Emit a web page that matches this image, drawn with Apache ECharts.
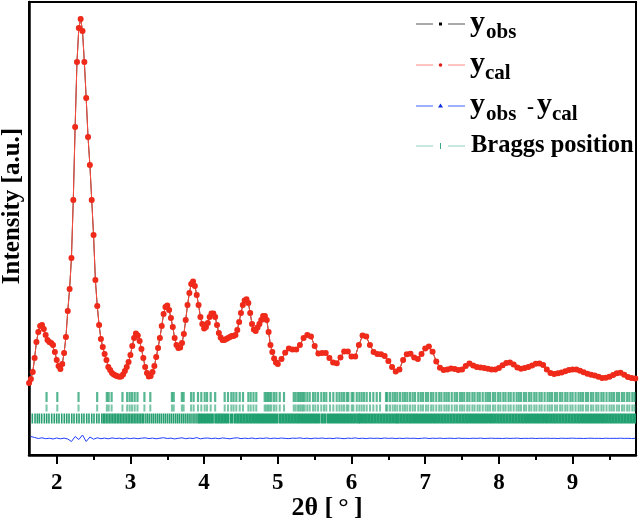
<!DOCTYPE html>
<html><head><meta charset="utf-8">
<script src="https://cdn.jsdelivr.net/npm/echarts@6/dist/echarts.min.js"></script>
<style>html,body{margin:0;padding:0;background:#fff}#c{width:640px;height:524px}</style>
</head><body><div id="c"></div>
<script>
// ---- data ----
// observed pattern, low-angle part: 2theta from 1.625 in steps of 0.025
const lowStart = 1.625, lowStep = 0.025;
const yObsLow = [
 72, 76, 83, 97, 113, 123, 129, 130, 126, 120,
 115, 113, 112, 110, 103, 95, 89, 86, 91, 102,
 118, 144, 166, 197, 255, 328, 393, 427, 436, 424,
 393, 357, 318, 290, 255, 220, 175, 149, 130, 116,
 108, 101, 95, 88, 85, 82, 80.5, 79.5, 78.7, 78.3,
 78.5, 80.5, 84, 88, 93, 100, 109, 117, 121.5, 119.5,
 114, 106, 97, 88, 82, 78.5, 79, 83, 89, 98,
 107, 117, 129, 141, 148, 149.5, 145, 137, 128, 117,
 110, 107, 107.5, 112, 121, 135, 150, 162, 171, 173.5,
 169, 160, 150, 138, 131, 126.5, 128, 132, 138, 141.5,
 141.5, 138, 130, 122, 117.5, 115, 115, 116, 117, 118,
 119, 119, 120, 125, 133, 142, 150, 154.5, 155.7, 152,
 142, 131, 125.5, 124, 127.5, 131, 135, 139, 139, 135,
 123, 110, 103, 96.5, 92.5, 91
];
// observed pattern, high-angle part: 2theta from 5.05 in steps of 0.05
const highStart = 5.05, highStep = 0.05;
const yObsHigh = [
 96, 102.3, 106.5, 105.5, 105.5, 110, 117, 120, 118.5, 109,
 101.5, 102, 102, 97, 92.5, 91.7, 97.5, 103.5, 103.5, 98.5,
 98.5, 110, 119.5, 118.5, 110, 103, 101, 100.7, 99, 94,
 88, 83.5, 85.5, 95, 100.7, 101.2, 97.5, 96, 101, 106.5,
 108.5, 103.3, 93.5, 87.2, 85, 85.5, 86.5, 86, 85, 85.5,
 89, 91.5, 89.5, 88, 87.5, 87, 86.2, 85.5, 85.5, 87,
 89.7, 92, 92.5, 90.5, 87.5, 86.2, 87, 88, 89.5, 91.2,
 91.5, 90, 85.5, 82, 81, 81.8, 82.5, 83.8, 85, 85.5,
 85.5, 84.2, 82.7, 81.2, 80.2, 79.5, 78.3, 77, 77.2, 78.2,
 80, 81.7, 82.2, 80.2, 78, 77, 76.5
];
// calculated pattern: coincides with the observed one within the picture's resolution
const yCalLow = yObsLow.slice();
const yCalHigh = yObsHigh.slice();
// difference curve (drawn with its own baseline), 2theta from 1.65 in steps of 0.05
const diffStart = 1.65, diffStep = 0.05;
const yDiff = [
 18.5, 17.5, 16.5, 17.2, 16.3, 16.8, 16.0, 17.0, 16.2, 16.9,
 16.0, 13.5, 18.5, 15.5, 20.0, 13.5, 18.0, 15.8, 17.2, 16.3,
 16.9, 16.2, 17.1, 16.5, 16.8, 16.1, 17.0, 16.4, 16.9, 16.3,
 16.8, 17.2, 16.4, 16.9, 16.2, 16.8, 17.3, 16.5, 16.9, 16.1,
 16.7, 17.2, 16.3, 16.9, 16.5, 17.4, 16.2, 16.8, 17.0, 16.4,
 16.9, 16.3, 17.1, 16.6, 16.2, 16.9, 17.2, 16.4, 16.8, 16.5,
 17.0, 16.3, 16.8, 16.6, 17.1, 16.4, 16.9, 16.5, 17.0, 16.6,
 16.4, 16.9, 16.7, 17.1, 16.5, 16.8, 16.3, 16.9, 16.6, 17.0,
 16.5, 16.8, 16.4, 17.0, 16.7, 16.3, 16.9, 16.6, 17.1, 16.5,
 16.8, 16.4, 16.9, 16.6, 16.8, 16.5, 17.0, 16.6, 16.9, 16.4,
 16.8, 16.5, 16.9, 16.6, 16.8, 16.4, 16.7, 17.0, 16.5, 16.8,
 16.6, 16.9, 16.5, 16.7, 16.8, 16.5, 16.9, 16.6, 16.7, 16.5,
 16.8, 16.6, 16.9, 16.5, 16.7, 16.8, 16.6, 16.7, 16.5, 16.8,
 16.6, 16.7, 16.9, 16.5, 16.7, 16.6, 16.8, 16.5, 16.7, 16.6,
 16.8, 16.6, 16.7, 16.5, 16.8, 16.6, 16.7, 16.9, 16.6, 16.7,
 16.5, 16.7, 16.8, 16.6, 16.7, 16.5, 16.8, 16.6, 16.7, 16.6,
 16.8, 16.6, 16.7, 16.5, 16.7
];
// Bragg reflection positions (2theta), phase shown in the two upper rows
const braggPhaseA = [
 1.862, 2.008, 2.296, 2.549, 2.680, 2.705, 2.745, 2.892, 2.956, 2.990,
 3.022, 3.058, 3.096, 3.190, 3.270, 3.563, 3.588, 3.698, 3.722, 3.823,
 3.858, 3.917, 3.962, 4.008, 4.040, 4.089, 4.150, 4.279, 4.324, 4.369,
 4.400, 4.437, 4.483, 4.528, 4.600, 4.632, 4.670, 4.708, 4.822, 4.844,
 4.867, 4.890, 4.912, 4.948, 4.980, 5.026, 5.084, 5.216, 5.243, 5.274,
 5.297, 5.319, 5.342, 5.365, 5.400, 5.433, 5.478, 5.509, 5.546, 5.590,
 5.627, 5.658, 5.708, 5.753, 5.799, 5.835, 5.867, 5.898, 5.935, 5.957,
 6.003, 6.025, 6.071, 6.106, 6.138, 6.170, 6.206, 6.251, 6.296, 6.342,
 6.387, 6.468, 6.486, 6.522, 6.559, 6.590, 6.621, 6.658, 6.695, 6.726,
 6.757, 6.794, 6.830, 6.862, 6.906, 6.94, 6.97, 7.01, 7.04, 7.08,
 7.11, 7.15, 7.19, 7.22, 7.26, 7.29, 7.32, 7.36, 7.40, 7.43,
 7.47, 7.50, 7.53, 7.57, 7.60, 7.64, 7.67, 7.71, 7.74, 7.78,
 7.82, 7.85, 7.88, 7.92, 7.95, 7.99, 8.02, 8.06, 8.09, 8.13,
 8.16, 8.20, 8.24, 8.27, 8.30, 8.34, 8.37, 8.41, 8.44, 8.48,
 8.51, 8.55, 8.58, 8.62, 8.66, 8.69, 8.72, 8.76, 8.79, 8.83,
 8.86, 8.90, 8.93, 8.97, 9.00, 9.04, 9.08, 9.11, 9.14, 9.18,
 9.21, 9.25, 9.28, 9.32, 9.35, 9.39, 9.42, 9.46, 9.50, 9.53,
 9.56, 9.60, 9.63, 9.67, 9.70, 9.74, 9.77, 9.81, 9.84
];
// Bragg reflection positions (2theta), dense phase in the lower row
const braggPhaseBSparse = [
 1.669, 1.706, 1.737, 1.764, 1.796, 1.832, 1.864, 1.895, 1.932, 1.967,
 2.000, 2.031, 2.068, 2.103, 2.136, 2.167, 2.204, 2.235, 2.271, 2.303,
 2.339, 2.370, 2.407, 2.438, 2.475, 2.506, 2.543, 2.574, 2.611, 2.633,
 2.652, 2.674, 2.695, 2.716, 2.737, 2.758, 2.779, 2.800, 2.822, 2.843,
 2.864, 2.885, 2.906, 2.927, 2.948, 2.969, 2.990, 3.012, 3.033, 3.054,
 3.075, 3.096, 3.117, 3.138, 3.160, 3.181, 3.210, 3.236, 3.262, 3.290,
 3.316, 3.343, 3.370, 3.396, 3.422, 3.450, 3.476, 3.503, 3.530, 3.556,
 3.583, 3.610, 3.636, 3.662, 3.690, 3.716, 3.743, 3.770, 3.796, 3.822,
 3.850, 3.876, 3.903, 3.925
];
const braggPhaseBDense = [
 3.95, 3.99, 4.03, 4.07, 4.11, 4.16, 4.20, 4.24, 4.28, 4.32,
 4.37, 4.42, 4.46, 4.50, 4.54, 4.58, 4.62, 4.66, 4.70, 4.74,
 4.78, 4.82, 4.86, 4.90, 4.94, 4.98,
 5.03, 5.07, 5.11, 5.15, 5.19, 5.23,
 5.27, 5.31, 5.35, 5.39, 5.43, 5.47, 5.51, 5.55, 5.60, 5.64,
 5.69, 5.73, 5.77, 5.81, 5.85, 5.89, 5.93, 5.97, 6.01, 6.05,
 6.09, 6.12, 6.16, 6.20, 6.24, 6.28, 6.32, 6.36, 6.40, 6.44,
 6.48, 6.52, 6.56, 6.60, 6.63, 6.67, 6.71, 6.75, 6.79, 6.83,
 6.87, 6.91, 6.95, 6.99, 7.03, 7.07, 7.11, 7.15, 7.19, 7.23,
 7.27, 7.31, 7.35, 7.39, 7.43, 7.47, 7.51, 7.55, 7.59, 7.63,
 7.67, 7.71, 7.75, 7.79, 7.83, 7.87, 7.91, 7.95, 7.99, 8.03,
 8.07, 8.11, 8.15, 8.19, 8.23, 8.27, 8.31, 8.35, 8.39, 8.43,
 8.47, 8.51, 8.55, 8.59, 8.63, 8.67, 8.71, 8.75, 8.79, 8.83,
 8.87, 8.91, 8.95, 8.99, 9.03, 9.07, 9.11, 9.15, 9.19, 9.23,
 9.27, 9.31, 9.35, 9.39, 9.43, 9.47, 9.51, 9.55, 9.59, 9.63,
 9.67, 9.71, 9.75, 9.79, 9.83, 9.87
];
// vertical level (intensity units) of each Bragg tick row
const braggRowLevels = [58, 47, 36.5];
const xTicks = [2, 3, 4, 5, 6, 7, 8, 9];
const xMinorTicks = [2.5, 3.5, 4.5, 5.5, 6.5, 7.5, 8.5, 9.5];
const xMin = 1.624, xMax = 9.86, yMin = 0, yMax = 453;
const legendLabels = ['obs', 'cal', 'Braggs position'];

// ---- build chart ----
const FONT = '"Liberation Serif", "Times New Roman", serif';
const pairs = (arr, start, step) => arr.map((v, i) => [+(start + i * step).toFixed(4), v]);
const obsData = pairs(yObsLow, lowStart, lowStep).concat(pairs(yObsHigh, highStart, highStep));
const calData = pairs(yCalLow, lowStart, lowStep).concat(pairs(yCalHigh, highStart, highStep));
const diffData = pairs(yDiff, diffStart, diffStep);

function braggSeries(positions, level, h, w, color, opacity) {
  return {
    type: 'custom', silent: true, clip: true, z: 1,
    data: positions.map(p => [p, level]),
    encode: { x: 0, y: 1 },
    renderItem: function (params, api) {
      const c = api.coord([api.value(0), api.value(1)]);
      return { type: 'rect', shape: { x: c[0] - w / 2, y: c[1] - h / 2, width: w, height: h },
               style: { fill: color, opacity: opacity } };
    }
  };
}

function legendRow(y, lineColor, marker) {
  return [
    { type: 'line', shape: { x1: 416, y1: y, x2: 433, y2: y }, style: { stroke: lineColor, lineWidth: 1 } },
    { type: 'line', shape: { x1: 448, y1: y, x2: 465, y2: y }, style: { stroke: lineColor, lineWidth: 1 } },
    marker
  ];
}
function txt(x, y, text, size) {
  return { type: 'text', x: x, y: y, style: { text: text, fill: '#000', font: 'bold ' + size + 'px ' + FONT, align: 'left', verticalAlign: 'middle' } };
}

const graphics = [].concat(
  legendRow(24, '#555', { type: 'rect', shape: { x: 439, y: 22.5, width: 3, height: 3 }, style: { fill: '#000' } }),
  legendRow(65, '#ff8a80', { type: 'circle', shape: { cx: 440.5, cy: 65, r: 1.8 }, style: { fill: '#e0201a' } }),
  legendRow(106, '#4060ff', { type: 'polygon', shape: { points: [[440.5, 103.5], [443, 107.5], [438, 107.5]] }, style: { fill: '#1030e0' } }),
  legendRow(146, '#8fd0c0', { type: 'rect', shape: { x: 440, y: 143, width: 1, height: 6 }, style: { fill: '#3aa888' } }),
  [
    txt(470, 23, 'y', 30), txt(486, 33, legendLabels[0], 21),
    txt(470, 64, 'y', 30), txt(485, 74, legendLabels[1], 21),
    txt(470, 105, 'y', 30), txt(486, 115, legendLabels[0], 21),
    txt(527, 108, '-', 21),
    txt(537, 105, 'y', 30), txt(552, 115, legendLabels[1], 21),
    txt(471, 146, legendLabels[2], 24.5),
    { type: 'text', x: 327, y: 508, style: { text: '2θ [\u2009°\u2009]', fill: '#000', font: 'bold 26px ' + FONT, align: 'center', verticalAlign: 'middle' } },
    { type: 'text', x: 13, y: 206, rotation: Math.PI / 2, style: { text: 'Intensity [a.u.]', fill: '#000', font: 'bold 25px ' + FONT, align: 'center', verticalAlign: 'middle' } }
  ]
);

const chart = echarts.init(document.getElementById('c'), null, { renderer: 'canvas' });
chart.setOption({
  animation: false,
  backgroundColor: '#fff',
  grid: { left: 29, right: 4, top: 2, bottom: 69, show: true, borderColor: '#000', borderWidth: 2, backgroundColor: 'transparent' },
  xAxis: [{
    type: 'value', min: xMin, max: xMax, position: 'bottom',
    axisLine: { show: true, onZero: false, lineStyle: { color: '#000', width: 2.5 } },
    axisTick: { show: true, inside: false, length: 9, customValues: xTicks, lineStyle: { color: '#000', width: 2 } },
    axisLabel: { show: true, customValues: xTicks, fontSize: 23, fontWeight: 'bold', fontFamily: FONT, color: '#000', margin: 17 },
    splitLine: { show: false }
  }, {
    type: 'value', min: xMin, max: xMax, position: 'bottom',
    axisLine: { show: false },
    axisTick: { show: true, inside: false, length: 5, customValues: xMinorTicks, lineStyle: { color: '#000', width: 2 } },
    axisLabel: { show: false }, splitLine: { show: false }
  }],
  yAxis: {
    type: 'value', min: yMin, max: yMax,
    axisLine: { show: true, onZero: false, lineStyle: { color: '#000', width: 2.5 } },
    axisTick: { show: false }, axisLabel: { show: false }, splitLine: { show: false }
  },
  series: [
    braggSeries(braggPhaseA, braggRowLevels[0], 10, 2.2, '#1e9e6c', 0.75),
    braggSeries(braggPhaseA, braggRowLevels[1], 7, 2, '#1e9e6c', 0.6),
    braggSeries(braggPhaseBSparse, braggRowLevels[2], 10, 1.6, '#1a9a68', 0.95),
    braggSeries(braggPhaseBDense, braggRowLevels[2], 10, 3.3, '#20a070', 1),
    { type: 'line', data: diffData, symbol: 'none', silent: true, lineStyle: { color: '#1f3dff', width: 1 }, z: 2 },
    { type: 'line', data: obsData, symbol: 'rect', symbolSize: 4.2, showAllSymbol: true, silent: true,
      itemStyle: { color: '#1a1a1a' }, lineStyle: { color: '#333', width: 1 }, z: 3 },
    { type: 'line', data: calData, symbol: 'circle', symbolSize: 6, showAllSymbol: true, silent: true,
      itemStyle: { color: '#f02a1a', borderWidth: 0 }, lineStyle: { color: '#ff4a3a', width: 1 }, z: 4 }
  ],
  graphic: graphics
});
</script></body></html>
